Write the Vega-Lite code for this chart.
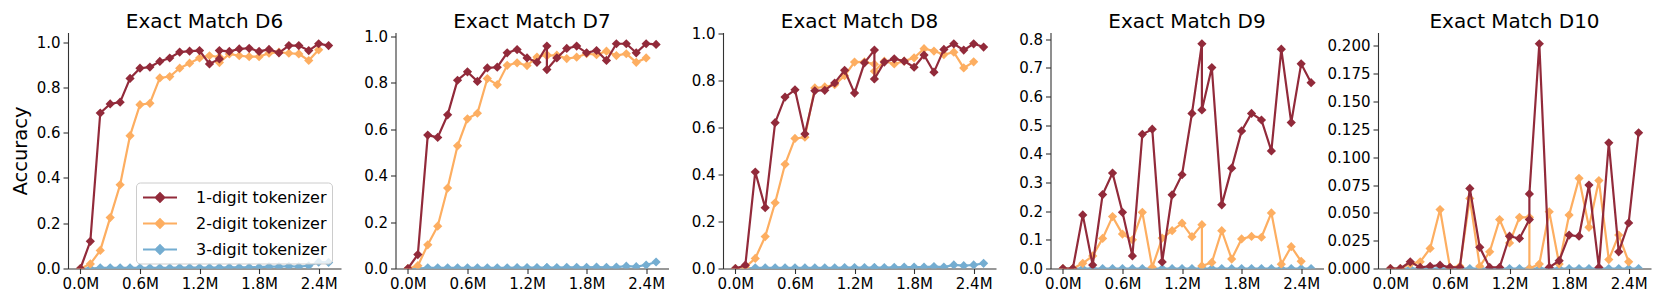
{
"$schema": "https://vega.github.io/schema/vega-lite/v6.json",
"padding": {"left": 10, "top": 11.5, "right": 5, "bottom": 3},
"background": "white",
"data": {"values": [
{"p":"D6","t":"1","x":0,"y":0},{"p":"D6","t":"1","x":0.1,"y":0.12},{"p":"D6","t":"1","x":0.2,"y":0.687},{"p":"D6","t":"1","x":0.3,"y":0.727},{"p":"D6","t":"1","x":0.4,"y":0.735},{"p":"D6","t":"1","x":0.5,"y":0.84},{"p":"D6","t":"1","x":0.6,"y":0.885},{"p":"D6","t":"1","x":0.7,"y":0.89},{"p":"D6","t":"1","x":0.8,"y":0.915},{"p":"D6","t":"1","x":0.9,"y":0.93},{"p":"D6","t":"1","x":1.0,"y":0.956},{"p":"D6","t":"1","x":1.1,"y":0.96},{"p":"D6","t":"1","x":1.2,"y":0.963},{"p":"D6","t":"1","x":1.3,"y":0.904},{"p":"D6","t":"1","x":1.4,"y":0.926},{"p":"D6","t":"1","x":1.4,"y":0.963},{"p":"D6","t":"1","x":1.5,"y":0.959},{"p":"D6","t":"1","x":1.6,"y":0.97},{"p":"D6","t":"1","x":1.7,"y":0.973},{"p":"D6","t":"1","x":1.8,"y":0.959},{"p":"D6","t":"1","x":1.9,"y":0.968},{"p":"D6","t":"1","x":2.0,"y":0.953},{"p":"D6","t":"1","x":2.1,"y":0.985},{"p":"D6","t":"1","x":2.2,"y":0.985},{"p":"D6","t":"1","x":2.3,"y":0.963},{"p":"D6","t":"1","x":2.4,"y":0.993},{"p":"D6","t":"1","x":2.5,"y":0.985},
{"p":"D6","t":"2","x":0,"y":0},{"p":"D6","t":"2","x":0.1,"y":0.02},{"p":"D6","t":"2","x":0.2,"y":0.08},{"p":"D6","t":"2","x":0.3,"y":0.225},{"p":"D6","t":"2","x":0.4,"y":0.37},{"p":"D6","t":"2","x":0.5,"y":0.587},{"p":"D6","t":"2","x":0.6,"y":0.724},{"p":"D6","t":"2","x":0.7,"y":0.73},{"p":"D6","t":"2","x":0.8,"y":0.842},{"p":"D6","t":"2","x":0.9,"y":0.848},{"p":"D6","t":"2","x":1.0,"y":0.885},{"p":"D6","t":"2","x":1.1,"y":0.907},{"p":"D6","t":"2","x":1.2,"y":0.93},{"p":"D6","t":"2","x":1.3,"y":0.94},{"p":"D6","t":"2","x":1.4,"y":0.935},{"p":"D6","t":"2","x":1.4,"y":0.91},{"p":"D6","t":"2","x":1.5,"y":0.948},{"p":"D6","t":"2","x":1.6,"y":0.94},{"p":"D6","t":"2","x":1.7,"y":0.936},{"p":"D6","t":"2","x":1.8,"y":0.936},{"p":"D6","t":"2","x":1.9,"y":0.951},{"p":"D6","t":"2","x":2.0,"y":0.956},{"p":"D6","t":"2","x":2.1,"y":0.951},{"p":"D6","t":"2","x":2.2,"y":0.948},{"p":"D6","t":"2","x":2.3,"y":0.919},{"p":"D6","t":"2","x":2.4,"y":0.966},
{"p":"D6","t":"3","x":0,"y":0},{"p":"D6","t":"3","x":0.1,"y":0},{"p":"D6","t":"3","x":0.2,"y":0.003},{"p":"D6","t":"3","x":0.3,"y":0.003},{"p":"D6","t":"3","x":0.4,"y":0.003},{"p":"D6","t":"3","x":0.5,"y":0.003},{"p":"D6","t":"3","x":0.6,"y":0.003},{"p":"D6","t":"3","x":0.7,"y":0.003},{"p":"D6","t":"3","x":0.8,"y":0.003},{"p":"D6","t":"3","x":0.9,"y":0.003},{"p":"D6","t":"3","x":1.0,"y":0.004},{"p":"D6","t":"3","x":1.1,"y":0.004},{"p":"D6","t":"3","x":1.2,"y":0.004},{"p":"D6","t":"3","x":1.3,"y":0.004},{"p":"D6","t":"3","x":1.4,"y":0.004},{"p":"D6","t":"3","x":1.4,"y":0.004},{"p":"D6","t":"3","x":1.5,"y":0.005},{"p":"D6","t":"3","x":1.6,"y":0.005},{"p":"D6","t":"3","x":1.7,"y":0.005},{"p":"D6","t":"3","x":1.8,"y":0.006},{"p":"D6","t":"3","x":1.9,"y":0.008},{"p":"D6","t":"3","x":2.0,"y":0.008},{"p":"D6","t":"3","x":2.1,"y":0.01},{"p":"D6","t":"3","x":2.2,"y":0.008},{"p":"D6","t":"3","x":2.3,"y":0.012},{"p":"D6","t":"3","x":2.4,"y":0.028},{"p":"D6","t":"3","x":2.5,"y":0.027},
{"p":"D7","t":"1","x":0,"y":0},{"p":"D7","t":"1","x":0.1,"y":0.06},{"p":"D7","t":"1","x":0.2,"y":0.574},{"p":"D7","t":"1","x":0.3,"y":0.564},{"p":"D7","t":"1","x":0.4,"y":0.661},{"p":"D7","t":"1","x":0.5,"y":0.81},{"p":"D7","t":"1","x":0.6,"y":0.846},{"p":"D7","t":"1","x":0.7,"y":0.805},{"p":"D7","t":"1","x":0.8,"y":0.863},{"p":"D7","t":"1","x":0.9,"y":0.866},{"p":"D7","t":"1","x":1.0,"y":0.928},{"p":"D7","t":"1","x":1.1,"y":0.942},{"p":"D7","t":"1","x":1.2,"y":0.906},{"p":"D7","t":"1","x":1.3,"y":0.887},{"p":"D7","t":"1","x":1.4,"y":0.957},{"p":"D7","t":"1","x":1.4,"y":0.856},{"p":"D7","t":"1","x":1.5,"y":0.906},{"p":"D7","t":"1","x":1.6,"y":0.947},{"p":"D7","t":"1","x":1.7,"y":0.957},{"p":"D7","t":"1","x":1.8,"y":0.928},{"p":"D7","t":"1","x":1.9,"y":0.938},{"p":"D7","t":"1","x":2.0,"y":0.895},{"p":"D7","t":"1","x":2.1,"y":0.967},{"p":"D7","t":"1","x":2.2,"y":0.967},{"p":"D7","t":"1","x":2.3,"y":0.928},{"p":"D7","t":"1","x":2.4,"y":0.967},{"p":"D7","t":"1","x":2.5,"y":0.964},
{"p":"D7","t":"2","x":0,"y":0},{"p":"D7","t":"2","x":0.1,"y":0.012},{"p":"D7","t":"2","x":0.2,"y":0.102},{"p":"D7","t":"2","x":0.3,"y":0.182},{"p":"D7","t":"2","x":0.4,"y":0.346},{"p":"D7","t":"2","x":0.5,"y":0.528},{"p":"D7","t":"2","x":0.6,"y":0.644},{"p":"D7","t":"2","x":0.7,"y":0.668},{"p":"D7","t":"2","x":0.8,"y":0.817},{"p":"D7","t":"2","x":0.9,"y":0.791},{"p":"D7","t":"2","x":1.0,"y":0.874},{"p":"D7","t":"2","x":1.1,"y":0.885},{"p":"D7","t":"2","x":1.2,"y":0.873},{"p":"D7","t":"2","x":1.3,"y":0.91},{"p":"D7","t":"2","x":1.4,"y":0.92},{"p":"D7","t":"2","x":1.4,"y":0.915},{"p":"D7","t":"2","x":1.5,"y":0.918},{"p":"D7","t":"2","x":1.6,"y":0.903},{"p":"D7","t":"2","x":1.7,"y":0.909},{"p":"D7","t":"2","x":1.8,"y":0.924},{"p":"D7","t":"2","x":1.9,"y":0.92},{"p":"D7","t":"2","x":2.0,"y":0.935},{"p":"D7","t":"2","x":2.1,"y":0.916},{"p":"D7","t":"2","x":2.2,"y":0.924},{"p":"D7","t":"2","x":2.3,"y":0.887},{"p":"D7","t":"2","x":2.4,"y":0.906},
{"p":"D7","t":"3","x":0,"y":0},{"p":"D7","t":"3","x":0.1,"y":0},{"p":"D7","t":"3","x":0.2,"y":0.003},{"p":"D7","t":"3","x":0.3,"y":0.003},{"p":"D7","t":"3","x":0.4,"y":0.003},{"p":"D7","t":"3","x":0.5,"y":0.003},{"p":"D7","t":"3","x":0.6,"y":0.003},{"p":"D7","t":"3","x":0.7,"y":0.003},{"p":"D7","t":"3","x":0.8,"y":0.003},{"p":"D7","t":"3","x":0.9,"y":0.003},{"p":"D7","t":"3","x":1.0,"y":0.003},{"p":"D7","t":"3","x":1.1,"y":0.004},{"p":"D7","t":"3","x":1.2,"y":0.004},{"p":"D7","t":"3","x":1.3,"y":0.004},{"p":"D7","t":"3","x":1.4,"y":0.004},{"p":"D7","t":"3","x":1.4,"y":0.004},{"p":"D7","t":"3","x":1.5,"y":0.004},{"p":"D7","t":"3","x":1.6,"y":0.005},{"p":"D7","t":"3","x":1.7,"y":0.005},{"p":"D7","t":"3","x":1.8,"y":0.005},{"p":"D7","t":"3","x":1.9,"y":0.006},{"p":"D7","t":"3","x":2.0,"y":0.005},{"p":"D7","t":"3","x":2.1,"y":0.006},{"p":"D7","t":"3","x":2.2,"y":0.01},{"p":"D7","t":"3","x":2.3,"y":0.008},{"p":"D7","t":"3","x":2.4,"y":0.015},{"p":"D7","t":"3","x":2.5,"y":0.028},
{"p":"D8","t":"1","x":0,"y":0},{"p":"D8","t":"1","x":0.1,"y":0.014},{"p":"D8","t":"1","x":0.2,"y":0.411},{"p":"D8","t":"1","x":0.3,"y":0.259},{"p":"D8","t":"1","x":0.4,"y":0.621},{"p":"D8","t":"1","x":0.5,"y":0.73},{"p":"D8","t":"1","x":0.6,"y":0.761},{"p":"D8","t":"1","x":0.7,"y":0.573},{"p":"D8","t":"1","x":0.8,"y":0.757},{"p":"D8","t":"1","x":0.9,"y":0.759},{"p":"D8","t":"1","x":1.0,"y":0.79},{"p":"D8","t":"1","x":1.1,"y":0.844},{"p":"D8","t":"1","x":1.2,"y":0.747},{"p":"D8","t":"1","x":1.3,"y":0.876},{"p":"D8","t":"1","x":1.4,"y":0.93},{"p":"D8","t":"1","x":1.4,"y":0.807},{"p":"D8","t":"1","x":1.5,"y":0.879},{"p":"D8","t":"1","x":1.6,"y":0.893},{"p":"D8","t":"1","x":1.7,"y":0.883},{"p":"D8","t":"1","x":1.8,"y":0.857},{"p":"D8","t":"1","x":1.9,"y":0.909},{"p":"D8","t":"1","x":2.0,"y":0.836},{"p":"D8","t":"1","x":2.1,"y":0.933},{"p":"D8","t":"1","x":2.2,"y":0.957},{"p":"D8","t":"1","x":2.3,"y":0.93},{"p":"D8","t":"1","x":2.4,"y":0.957},{"p":"D8","t":"1","x":2.5,"y":0.943},
{"p":"D8","t":"2","x":0,"y":0},{"p":"D8","t":"2","x":0.1,"y":0.005},{"p":"D8","t":"2","x":0.2,"y":0.043},{"p":"D8","t":"2","x":0.3,"y":0.136},{"p":"D8","t":"2","x":0.4,"y":0.28},{"p":"D8","t":"2","x":0.5,"y":0.444},{"p":"D8","t":"2","x":0.6,"y":0.554},{"p":"D8","t":"2","x":0.7,"y":0.559},{"p":"D8","t":"2","x":0.8,"y":0.769},{"p":"D8","t":"2","x":0.9,"y":0.773},{"p":"D8","t":"2","x":1.0,"y":0.783},{"p":"D8","t":"2","x":1.1,"y":0.821},{"p":"D8","t":"2","x":1.2,"y":0.879},{"p":"D8","t":"2","x":1.3,"y":0.88},{"p":"D8","t":"2","x":1.4,"y":0.87},{"p":"D8","t":"2","x":1.4,"y":0.84},{"p":"D8","t":"2","x":1.5,"y":0.883},{"p":"D8","t":"2","x":1.6,"y":0.871},{"p":"D8","t":"2","x":1.7,"y":0.883},{"p":"D8","t":"2","x":1.8,"y":0.897},{"p":"D8","t":"2","x":1.9,"y":0.936},{"p":"D8","t":"2","x":2.0,"y":0.926},{"p":"D8","t":"2","x":2.1,"y":0.911},{"p":"D8","t":"2","x":2.2,"y":0.921},{"p":"D8","t":"2","x":2.3,"y":0.854},{"p":"D8","t":"2","x":2.4,"y":0.88},
{"p":"D8","t":"3","x":0,"y":0},{"p":"D8","t":"3","x":0.1,"y":0},{"p":"D8","t":"3","x":0.2,"y":0.003},{"p":"D8","t":"3","x":0.3,"y":0.003},{"p":"D8","t":"3","x":0.4,"y":0.003},{"p":"D8","t":"3","x":0.5,"y":0.003},{"p":"D8","t":"3","x":0.6,"y":0.003},{"p":"D8","t":"3","x":0.7,"y":0.003},{"p":"D8","t":"3","x":0.8,"y":0.003},{"p":"D8","t":"3","x":0.9,"y":0.003},{"p":"D8","t":"3","x":1.0,"y":0.003},{"p":"D8","t":"3","x":1.1,"y":0.004},{"p":"D8","t":"3","x":1.2,"y":0.004},{"p":"D8","t":"3","x":1.3,"y":0.004},{"p":"D8","t":"3","x":1.4,"y":0.004},{"p":"D8","t":"3","x":1.4,"y":0.004},{"p":"D8","t":"3","x":1.5,"y":0.004},{"p":"D8","t":"3","x":1.6,"y":0.005},{"p":"D8","t":"3","x":1.7,"y":0.006},{"p":"D8","t":"3","x":1.8,"y":0.006},{"p":"D8","t":"3","x":1.9,"y":0.006},{"p":"D8","t":"3","x":2.0,"y":0.008},{"p":"D8","t":"3","x":2.1,"y":0.006},{"p":"D8","t":"3","x":2.2,"y":0.015},{"p":"D8","t":"3","x":2.3,"y":0.012},{"p":"D8","t":"3","x":2.4,"y":0.015},{"p":"D8","t":"3","x":2.5,"y":0.022},
{"p":"D9","t":"1","x":0,"y":0},{"p":"D9","t":"1","x":0.1,"y":0},{"p":"D9","t":"1","x":0.2,"y":0.187},{"p":"D9","t":"1","x":0.3,"y":0.012},{"p":"D9","t":"1","x":0.4,"y":0.258},{"p":"D9","t":"1","x":0.5,"y":0.333},{"p":"D9","t":"1","x":0.6,"y":0.196},{"p":"D9","t":"1","x":0.7,"y":0.044},{"p":"D9","t":"1","x":0.8,"y":0.468},{"p":"D9","t":"1","x":0.9,"y":0.486},{"p":"D9","t":"1","x":1.0,"y":0.023},{"p":"D9","t":"1","x":1.1,"y":0.257},{"p":"D9","t":"1","x":1.2,"y":0.327},{"p":"D9","t":"1","x":1.3,"y":0.541},{"p":"D9","t":"1","x":1.4,"y":0.784},{"p":"D9","t":"1","x":1.4,"y":0.553},{"p":"D9","t":"1","x":1.5,"y":0.701},{"p":"D9","t":"1","x":1.6,"y":0.222},{"p":"D9","t":"1","x":1.7,"y":0.35},{"p":"D9","t":"1","x":1.8,"y":0.48},{"p":"D9","t":"1","x":1.9,"y":0.541},{"p":"D9","t":"1","x":2.0,"y":0.518},{"p":"D9","t":"1","x":2.1,"y":0.41},{"p":"D9","t":"1","x":2.2,"y":0.765},{"p":"D9","t":"1","x":2.3,"y":0.509},{"p":"D9","t":"1","x":2.4,"y":0.714},{"p":"D9","t":"1","x":2.5,"y":0.648},
{"p":"D9","t":"2","x":0,"y":0},{"p":"D9","t":"2","x":0.1,"y":0},{"p":"D9","t":"2","x":0.2,"y":0.018},{"p":"D9","t":"2","x":0.3,"y":0.044},{"p":"D9","t":"2","x":0.4,"y":0.105},{"p":"D9","t":"2","x":0.5,"y":0.181},{"p":"D9","t":"2","x":0.6,"y":0.12},{"p":"D9","t":"2","x":0.7,"y":0.1},{"p":"D9","t":"2","x":0.8,"y":0.196},{"p":"D9","t":"2","x":0.9,"y":0.004},{"p":"D9","t":"2","x":1.0,"y":0.106},{"p":"D9","t":"2","x":1.1,"y":0.132},{"p":"D9","t":"2","x":1.2,"y":0.158},{"p":"D9","t":"2","x":1.3,"y":0.111},{"p":"D9","t":"2","x":1.4,"y":0.153},{"p":"D9","t":"2","x":1.4,"y":0.009},{"p":"D9","t":"2","x":1.5,"y":0.021},{"p":"D9","t":"2","x":1.6,"y":0.132},{"p":"D9","t":"2","x":1.7,"y":0.033},{"p":"D9","t":"2","x":1.8,"y":0.103},{"p":"D9","t":"2","x":1.9,"y":0.112},{"p":"D9","t":"2","x":2.0,"y":0.109},{"p":"D9","t":"2","x":2.1,"y":0.194},{"p":"D9","t":"2","x":2.2,"y":0.015},{"p":"D9","t":"2","x":2.3,"y":0.076},{"p":"D9","t":"2","x":2.4,"y":0.025},
{"p":"D9","t":"3","x":0,"y":0},{"p":"D9","t":"3","x":0.1,"y":0},{"p":"D9","t":"3","x":0.2,"y":0},{"p":"D9","t":"3","x":0.3,"y":0},{"p":"D9","t":"3","x":0.4,"y":0},{"p":"D9","t":"3","x":0.5,"y":0},{"p":"D9","t":"3","x":0.6,"y":0},{"p":"D9","t":"3","x":0.7,"y":0},{"p":"D9","t":"3","x":0.8,"y":0},{"p":"D9","t":"3","x":0.9,"y":0},{"p":"D9","t":"3","x":1.0,"y":0},{"p":"D9","t":"3","x":1.1,"y":0},{"p":"D9","t":"3","x":1.2,"y":0},{"p":"D9","t":"3","x":1.3,"y":0},{"p":"D9","t":"3","x":1.4,"y":0},{"p":"D9","t":"3","x":1.4,"y":0},{"p":"D9","t":"3","x":1.5,"y":0},{"p":"D9","t":"3","x":1.6,"y":0},{"p":"D9","t":"3","x":1.7,"y":0},{"p":"D9","t":"3","x":1.8,"y":0},{"p":"D9","t":"3","x":1.9,"y":0},{"p":"D9","t":"3","x":2.0,"y":0},{"p":"D9","t":"3","x":2.1,"y":0},{"p":"D9","t":"3","x":2.2,"y":0},{"p":"D9","t":"3","x":2.3,"y":0},{"p":"D9","t":"3","x":2.4,"y":0},{"p":"D9","t":"3","x":2.5,"y":0},
{"p":"D10","t":"1","x":0,"y":0},{"p":"D10","t":"1","x":0.1,"y":0},{"p":"D10","t":"1","x":0.2,"y":0.006},{"p":"D10","t":"1","x":0.3,"y":0.001},{"p":"D10","t":"1","x":0.4,"y":0.002},{"p":"D10","t":"1","x":0.5,"y":0.003},{"p":"D10","t":"1","x":0.6,"y":0.001},{"p":"D10","t":"1","x":0.7,"y":0.001},{"p":"D10","t":"1","x":0.8,"y":0.072},{"p":"D10","t":"1","x":0.9,"y":0.019},{"p":"D10","t":"1","x":1.0,"y":0.001},{"p":"D10","t":"1","x":1.1,"y":0.001},{"p":"D10","t":"1","x":1.2,"y":0.029},{"p":"D10","t":"1","x":1.3,"y":0.027},{"p":"D10","t":"1","x":1.4,"y":0.044},{"p":"D10","t":"1","x":1.4,"y":0.067},{"p":"D10","t":"1","x":1.5,"y":0.202},{"p":"D10","t":"1","x":1.6,"y":0.001},{"p":"D10","t":"1","x":1.7,"y":0.007},{"p":"D10","t":"1","x":1.8,"y":0.03},{"p":"D10","t":"1","x":1.9,"y":0.029},{"p":"D10","t":"1","x":2.0,"y":0.075},{"p":"D10","t":"1","x":2.1,"y":0.001},{"p":"D10","t":"1","x":2.2,"y":0.113},{"p":"D10","t":"1","x":2.3,"y":0.015},{"p":"D10","t":"1","x":2.4,"y":0.041},{"p":"D10","t":"1","x":2.5,"y":0.122},
{"p":"D10","t":"2","x":0,"y":0},{"p":"D10","t":"2","x":0.1,"y":0},{"p":"D10","t":"2","x":0.2,"y":0.004},{"p":"D10","t":"2","x":0.3,"y":0.006},{"p":"D10","t":"2","x":0.4,"y":0.018},{"p":"D10","t":"2","x":0.5,"y":0.053},{"p":"D10","t":"2","x":0.6,"y":0.001},{"p":"D10","t":"2","x":0.7,"y":0.002},{"p":"D10","t":"2","x":0.8,"y":0.063},{"p":"D10","t":"2","x":0.9,"y":0.002},{"p":"D10","t":"2","x":1.0,"y":0.015},{"p":"D10","t":"2","x":1.1,"y":0.044},{"p":"D10","t":"2","x":1.2,"y":0.023},{"p":"D10","t":"2","x":1.3,"y":0.046},{"p":"D10","t":"2","x":1.4,"y":0.046},{"p":"D10","t":"2","x":1.4,"y":0},{"p":"D10","t":"2","x":1.5,"y":0.004},{"p":"D10","t":"2","x":1.6,"y":0.051},{"p":"D10","t":"2","x":1.7,"y":0.004},{"p":"D10","t":"2","x":1.8,"y":0.048},{"p":"D10","t":"2","x":1.9,"y":0.081},{"p":"D10","t":"2","x":2.0,"y":0.037},{"p":"D10","t":"2","x":2.1,"y":0.079},{"p":"D10","t":"2","x":2.2,"y":0.008},{"p":"D10","t":"2","x":2.3,"y":0.03},{"p":"D10","t":"2","x":2.4,"y":0.006},
{"p":"D10","t":"3","x":0,"y":0},{"p":"D10","t":"3","x":0.1,"y":0},{"p":"D10","t":"3","x":0.2,"y":0},{"p":"D10","t":"3","x":0.3,"y":0},{"p":"D10","t":"3","x":0.4,"y":0},{"p":"D10","t":"3","x":0.5,"y":0},{"p":"D10","t":"3","x":0.6,"y":0},{"p":"D10","t":"3","x":0.7,"y":0},{"p":"D10","t":"3","x":0.8,"y":0},{"p":"D10","t":"3","x":0.9,"y":0},{"p":"D10","t":"3","x":1.0,"y":0},{"p":"D10","t":"3","x":1.1,"y":0},{"p":"D10","t":"3","x":1.2,"y":0},{"p":"D10","t":"3","x":1.3,"y":0},{"p":"D10","t":"3","x":1.4,"y":0},{"p":"D10","t":"3","x":1.4,"y":0},{"p":"D10","t":"3","x":1.5,"y":0},{"p":"D10","t":"3","x":1.6,"y":0},{"p":"D10","t":"3","x":1.7,"y":0},{"p":"D10","t":"3","x":1.8,"y":0},{"p":"D10","t":"3","x":1.9,"y":0},{"p":"D10","t":"3","x":2.0,"y":0},{"p":"D10","t":"3","x":2.1,"y":0},{"p":"D10","t":"3","x":2.2,"y":0},{"p":"D10","t":"3","x":2.3,"y":0},{"p":"D10","t":"3","x":2.4,"y":0},{"p":"D10","t":"3","x":2.5,"y":0}
]},
"spacing": 54.5,
"bounds": "flush",
"resolve": {"scale": {"x": "independent", "y": "independent"}},
"hconcat": [
{
 "title": {"text": "Exact Match D6", "frame": "group", "offset": 1, "fontSize": 20},
 "width": 273, "height": 236,
 "transform": [{"filter": "datum.p == 'D6'"}],
 "encoding": {
  "x": {"field": "x", "type": "quantitative", "scale": {"domain": [-0.125, 2.625], "nice": false, "zero": false}, "axis": {"title": null, "values": [0, 0.6, 1.2, 1.8, 2.4], "labelExpr": "format(datum.value, '.1f') + 'M'"}},
  "y": {"field": "y", "type": "quantitative", "scale": {"domain": [0, 1.0427], "nice": false, "zero": false}, "axis": {"title": "Accuracy", "values": [0, 0.2, 0.4, 0.6, 0.8, 1.0], "format": ".1f"}},
  "color": {"field": "t", "type": "nominal", "scale": {"domain": ["1", "2", "3"], "range": ["#922a3a", "#fdae61", "#74add1"]},
   "legend": {"orient": "none", "legendX": 68, "legendY": 150, "title": null, "labelExpr": "datum.label + '-digit tokenizer'", "symbolType": "M-2,0H2M-0.5,0L0,-0.5L0.5,0L0,0.5Z", "symbolSize": 289, "symbolStrokeWidth": 2.2, "symbolOffset": 9, "labelOffset": 26, "rowPadding": 7, "padding": 5, "fillColor": "rgba(255,255,255,0.8)", "strokeColor": "#cccccc", "cornerRadius": 4,
    "encode": {"symbols": {"update": {"fill": {"scale": "color", "field": "value"}, "stroke": {"scale": "color", "field": "value"}, "opacity": {"value": 1}}}}}}
 },
 "layer": [
  {"transform": [{"filter": "datum.t == '3'"}], "mark": {"type": "line", "strokeWidth": 2.2, "clip": true}},
  {"transform": [{"filter": "datum.t == '3'"}], "mark": {"type": "point", "shape": "diamond", "filled": true, "size": 85, "opacity": 1, "clip": true}},
  {"transform": [{"filter": "datum.t == '2'"}], "mark": {"type": "line", "strokeWidth": 2.2, "clip": true}},
  {"transform": [{"filter": "datum.t == '2'"}], "mark": {"type": "point", "shape": "diamond", "filled": true, "size": 85, "opacity": 1, "clip": true}},
  {"transform": [{"filter": "datum.t == '1'"}], "mark": {"type": "line", "strokeWidth": 2.2, "clip": true}},
  {"transform": [{"filter": "datum.t == '1'"}], "mark": {"type": "point", "shape": "diamond", "filled": true, "size": 85, "opacity": 1, "clip": true}}
 ]
},
{
 "title": {"text": "Exact Match D7", "frame": "group", "offset": -3, "fontSize": 20},
 "width": 273, "height": 236,
 "transform": [{"filter": "datum.p == 'D7'"}],
 "encoding": {
  "x": {"field": "x", "type": "quantitative", "scale": {"domain": [-0.125, 2.625], "nice": false, "zero": false}, "axis": {"title": null, "values": [0, 0.6, 1.2, 1.8, 2.4], "labelExpr": "format(datum.value, '.1f') + 'M'"}},
  "y": {"field": "y", "type": "quantitative", "scale": {"domain": [0, 1.0154], "nice": false, "zero": false}, "axis": {"title": null, "values": [0, 0.2, 0.4, 0.6, 0.8, 1.0], "format": ".1f"}},
  "color": {"field": "t", "type": "nominal", "scale": {"domain": ["1", "2", "3"], "range": ["#922a3a", "#fdae61", "#74add1"]}, "legend": null}
 },
 "layer": [
  {"transform": [{"filter": "datum.t == '3'"}], "mark": {"type": "line", "strokeWidth": 2.2, "clip": true}},
  {"transform": [{"filter": "datum.t == '3'"}], "mark": {"type": "point", "shape": "diamond", "filled": true, "size": 85, "opacity": 1, "clip": true}},
  {"transform": [{"filter": "datum.t == '2'"}], "mark": {"type": "line", "strokeWidth": 2.2, "clip": true}},
  {"transform": [{"filter": "datum.t == '2'"}], "mark": {"type": "point", "shape": "diamond", "filled": true, "size": 85, "opacity": 1, "clip": true}},
  {"transform": [{"filter": "datum.t == '1'"}], "mark": {"type": "line", "strokeWidth": 2.2, "clip": true}},
  {"transform": [{"filter": "datum.t == '1'"}], "mark": {"type": "point", "shape": "diamond", "filled": true, "size": 85, "opacity": 1, "clip": true}}
 ]
},
{
 "title": {"text": "Exact Match D8", "frame": "group", "offset": -5, "fontSize": 20},
 "width": 273, "height": 236,
 "transform": [{"filter": "datum.p == 'D8'"}],
 "encoding": {
  "x": {"field": "x", "type": "quantitative", "scale": {"domain": [-0.125, 2.625], "nice": false, "zero": false}, "axis": {"title": null, "values": [0, 0.6, 1.2, 1.8, 2.4], "labelExpr": "format(datum.value, '.1f') + 'M'"}},
  "y": {"field": "y", "type": "quantitative", "scale": {"domain": [0, 1.005], "nice": false, "zero": false}, "axis": {"title": null, "values": [0, 0.2, 0.4, 0.6, 0.8, 1.0], "format": ".1f"}},
  "color": {"field": "t", "type": "nominal", "scale": {"domain": ["1", "2", "3"], "range": ["#922a3a", "#fdae61", "#74add1"]}, "legend": null}
 },
 "layer": [
  {"transform": [{"filter": "datum.t == '3'"}], "mark": {"type": "line", "strokeWidth": 2.2, "clip": true}},
  {"transform": [{"filter": "datum.t == '3'"}], "mark": {"type": "point", "shape": "diamond", "filled": true, "size": 85, "opacity": 1, "clip": true}},
  {"transform": [{"filter": "datum.t == '2'"}], "mark": {"type": "line", "strokeWidth": 2.2, "clip": true}},
  {"transform": [{"filter": "datum.t == '2'"}], "mark": {"type": "point", "shape": "diamond", "filled": true, "size": 85, "opacity": 1, "clip": true}},
  {"transform": [{"filter": "datum.t == '1'"}], "mark": {"type": "line", "strokeWidth": 2.2, "clip": true}},
  {"transform": [{"filter": "datum.t == '1'"}], "mark": {"type": "point", "shape": "diamond", "filled": true, "size": 85, "opacity": 1, "clip": true}}
 ]
},
{
 "title": {"text": "Exact Match D9", "frame": "group", "offset": 0, "fontSize": 20},
 "width": 273, "height": 236,
 "transform": [{"filter": "datum.p == 'D9'"}],
 "encoding": {
  "x": {"field": "x", "type": "quantitative", "scale": {"domain": [-0.125, 2.625], "nice": false, "zero": false}, "axis": {"title": null, "values": [0, 0.6, 1.2, 1.8, 2.4], "labelExpr": "format(datum.value, '.1f') + 'M'"}},
  "y": {"field": "y", "type": "quantitative", "scale": {"domain": [0, 0.8232], "nice": false, "zero": false}, "axis": {"title": null, "values": [0, 0.1, 0.2, 0.3, 0.4, 0.5, 0.6, 0.7, 0.8], "format": ".1f"}},
  "color": {"field": "t", "type": "nominal", "scale": {"domain": ["1", "2", "3"], "range": ["#922a3a", "#fdae61", "#74add1"]}, "legend": null}
 },
 "layer": [
  {"transform": [{"filter": "datum.t == '3'"}], "mark": {"type": "line", "strokeWidth": 2.2, "clip": true}},
  {"transform": [{"filter": "datum.t == '3'"}], "mark": {"type": "point", "shape": "diamond", "filled": true, "size": 85, "opacity": 1, "clip": true}},
  {"transform": [{"filter": "datum.t == '2'"}], "mark": {"type": "line", "strokeWidth": 2.2, "clip": true}},
  {"transform": [{"filter": "datum.t == '2'"}], "mark": {"type": "point", "shape": "diamond", "filled": true, "size": 85, "opacity": 1, "clip": true}},
  {"transform": [{"filter": "datum.t == '1'"}], "mark": {"type": "line", "strokeWidth": 2.2, "clip": true}},
  {"transform": [{"filter": "datum.t == '1'"}], "mark": {"type": "point", "shape": "diamond", "filled": true, "size": 85, "opacity": 1, "clip": true}}
 ]
},
{
 "title": {"text": "Exact Match D10", "frame": "group", "offset": 1, "fontSize": 20},
 "width": 273, "height": 236,
 "transform": [{"filter": "datum.p == 'D10'"}],
 "encoding": {
  "x": {"field": "x", "type": "quantitative", "scale": {"domain": [-0.125, 2.625], "nice": false, "zero": false}, "axis": {"title": null, "values": [0, 0.6, 1.2, 1.8, 2.4], "labelExpr": "format(datum.value, '.1f') + 'M'"}},
  "y": {"field": "y", "type": "quantitative", "scale": {"domain": [0, 0.2121], "nice": false, "zero": false}, "axis": {"title": null, "values": [0, 0.025, 0.05, 0.075, 0.1, 0.125, 0.15, 0.175, 0.2], "format": ".3f"}},
  "color": {"field": "t", "type": "nominal", "scale": {"domain": ["1", "2", "3"], "range": ["#922a3a", "#fdae61", "#74add1"]}, "legend": null}
 },
 "layer": [
  {"transform": [{"filter": "datum.t == '3'"}], "mark": {"type": "line", "strokeWidth": 2.2, "clip": true}},
  {"transform": [{"filter": "datum.t == '3'"}], "mark": {"type": "point", "shape": "diamond", "filled": true, "size": 85, "opacity": 1, "clip": true}},
  {"transform": [{"filter": "datum.t == '2'"}], "mark": {"type": "line", "strokeWidth": 2.2, "clip": true}},
  {"transform": [{"filter": "datum.t == '2'"}], "mark": {"type": "point", "shape": "diamond", "filled": true, "size": 85, "opacity": 1, "clip": true}},
  {"transform": [{"filter": "datum.t == '1'"}], "mark": {"type": "line", "strokeWidth": 2.2, "clip": true}},
  {"transform": [{"filter": "datum.t == '1'"}], "mark": {"type": "point", "shape": "diamond", "filled": true, "size": 85, "opacity": 1, "clip": true}}
 ]
}
],
"config": {
 "font": "DejaVu Sans",
 "view": {"stroke": null},
 "title": {"font": "DejaVu Sans", "fontSize": 20, "fontWeight": "normal", "color": "#000000"},
 "axis": {"grid": false, "domainColor": "#333333", "domainWidth": 1.1, "tickColor": "#333333", "tickWidth": 1.1, "tickSize": 5, "labelFont": "DejaVu Sans", "labelFontSize": 15, "labelColor": "#000000", "labelPadding": 3, "labelOverlap": false, "labelFlush": false, "titleFont": "DejaVu Sans", "titleFontSize": 19.5, "titleFontWeight": "normal", "titleColor": "#000000", "titlePadding": 6},
 "legend": {"labelFont": "DejaVu Sans", "labelFontSize": 16, "labelColor": "#000000"}
}
}
